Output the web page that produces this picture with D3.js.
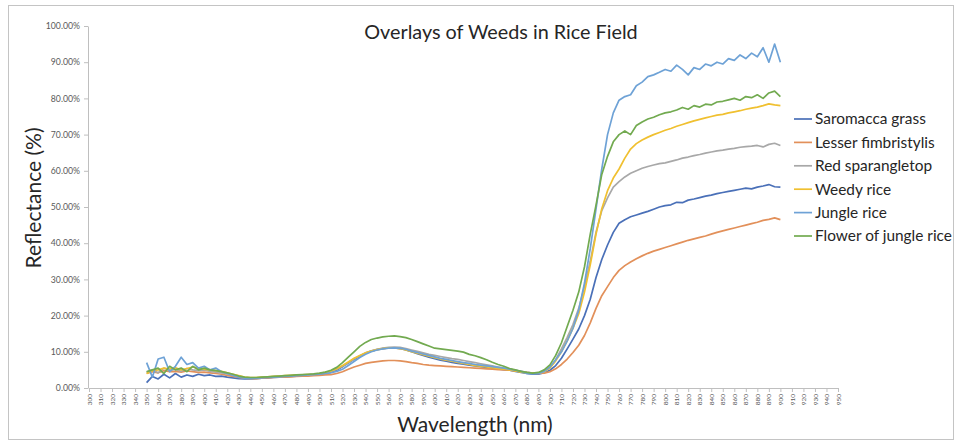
<!DOCTYPE html>
<html>
<head>
<meta charset="utf-8">
<script src="https://cdn.jsdelivr.net/npm/d3@7"></script>
<style>
  html, body { margin: 0; padding: 0; background: #fff; }
  svg { display: block; font-family: Lato, "Open Sans", sans-serif; }
</style>
</head>
<body>
<svg id="chart" width="962" height="444"></svg>
<script>
// Reflectance spectra (%), 350–900 nm every 5 nm

const wavelengths = d3.range(350, 901, 5);

const saromacca = [
  1.5, 3.2, 2.5, 3.8, 2.8, 4.0, 3.0, 3.6, 3.2, 3.8, 3.4, 3.6, 3.2, 3.3, 3.0, 2.8, 2.6, 2.5, 2.5, 2.6,
  2.7, 2.8, 2.9, 3.0, 3.1, 3.2, 3.3, 3.4, 3.5, 3.6, 3.7, 4.0, 4.4, 5.0, 5.9, 6.9, 7.9, 8.8, 9.6, 10.2,
  10.6, 10.9, 11.1, 11.1, 10.9, 10.5, 10.0, 9.5, 9.0, 8.5, 8.1, 7.7, 7.4, 7.1, 6.8, 6.6, 6.3, 6.1, 5.9, 5.7,
  5.5, 5.3, 5.1, 4.9, 4.6, 4.3, 4.0, 3.8, 3.8, 4.2, 4.9, 6.2, 8.2, 10.8, 13.5, 16.3, 20.0, 24.5, 30.5, 35.5,
  39.5, 43.0, 45.5, 46.5, 47.3, 47.8, 48.3, 48.8, 49.4, 50.0, 50.4, 50.6, 51.3, 51.2, 51.9, 52.2, 52.6, 53.0, 53.3, 53.7,
  54.0, 54.3, 54.6, 54.9, 55.2, 55.0, 55.5, 55.8, 56.2, 55.6, 55.5
];

const lesser = [
  4.0, 4.5, 4.2, 4.8, 4.5, 4.6, 4.4, 4.7, 4.5, 4.3, 4.4, 4.2, 4.0, 3.8, 3.5, 3.2, 2.9, 2.7, 2.6, 2.6,
  2.7, 2.8, 2.9, 3.0, 3.0, 3.1, 3.2, 3.3, 3.3, 3.4, 3.5, 3.6, 3.7, 4.0, 4.5, 5.2, 5.8, 6.3, 6.8, 7.1,
  7.3, 7.5, 7.6, 7.6, 7.5, 7.3, 7.0, 6.8, 6.5, 6.3, 6.2, 6.1, 6.0, 5.9, 5.8, 5.7, 5.6, 5.5, 5.4, 5.3,
  5.2, 5.1, 5.0, 4.9, 4.7, 4.5, 4.3, 4.1, 4.0, 4.1, 4.5, 5.3, 6.5, 8.0, 9.8, 11.8, 14.5, 18.0, 22.0, 25.5,
  28.0, 30.5, 32.5, 33.8, 34.8, 35.7, 36.5, 37.2, 37.8, 38.3, 38.8, 39.3, 39.8, 40.3, 40.8, 41.2, 41.6, 42.0, 42.5, 43.0,
  43.4, 43.8, 44.2, 44.6, 45.0, 45.4, 45.8, 46.3, 46.6, 47.0, 46.5
];

const sparangletop = [
  4.5, 5.0, 4.2, 5.5, 4.8, 5.2, 4.6, 5.4, 5.0, 4.8, 5.0, 4.6, 4.4, 4.2, 3.9, 3.6, 3.2, 2.9, 2.8, 2.8,
  2.9, 3.0, 3.1, 3.2, 3.3, 3.4, 3.5, 3.6, 3.7, 3.8, 3.9, 4.2, 4.6, 5.2, 6.0, 7.0, 8.0, 8.9, 9.7, 10.3,
  10.7, 11.0, 11.2, 11.3, 11.2, 10.9, 10.5, 10.1, 9.7, 9.3, 9.0, 8.7, 8.4, 8.1, 7.9, 7.6, 7.3, 7.0, 6.7, 6.4,
  6.1, 5.8, 5.5, 5.2, 4.9, 4.6, 4.3, 4.1, 4.0, 4.5, 5.6, 7.8, 10.8, 14.0, 17.5, 22.0, 28.0, 35.0, 43.0, 49.0,
  52.5, 55.5, 57.0, 58.3, 59.3, 60.0, 60.7, 61.2, 61.6, 62.0, 62.2, 62.6, 63.0, 63.5, 63.8, 64.2, 64.5, 64.9, 65.2, 65.5,
  65.7, 66.0, 66.2, 66.5, 66.7, 66.8, 67.0, 66.6, 67.3, 67.6, 67.0
];

const weedyRice = [
  4.0, 4.8, 5.0, 5.5, 5.2, 5.6, 5.0, 5.4, 5.8, 5.5, 5.2, 5.0, 4.8, 4.6, 4.2, 3.8, 3.4, 3.0, 2.9, 2.9,
  3.0, 3.1, 3.2, 3.3, 3.4, 3.5, 3.6, 3.6, 3.7, 3.8, 4.0, 4.3, 4.7, 5.3, 6.2, 7.2, 8.2, 9.0, 9.7, 10.2,
  10.6, 10.9, 11.1, 11.1, 10.9, 10.5, 10.0, 9.6, 9.2, 8.8, 8.4, 8.0, 7.7, 7.4, 7.1, 6.8, 6.5, 6.2, 6.0, 5.8,
  5.6, 5.4, 5.2, 5.0, 4.7, 4.4, 4.2, 4.1, 4.1, 4.5, 5.5, 7.5, 10.0, 13.0, 16.5, 20.5, 26.5, 34.0, 42.5, 49.5,
  54.5, 58.0, 60.5, 63.5, 66.0, 67.5, 68.5, 69.3, 70.0, 70.6, 71.2, 71.7, 72.3, 72.8, 73.3, 73.8, 74.2, 74.6, 75.0, 75.4,
  75.6, 76.0, 76.3, 76.6, 77.0, 77.3, 77.6, 78.0, 78.5, 78.2, 78.0
];

const jungleRice = [
  7.0, 3.0, 8.0, 8.5, 4.5, 6.0, 8.5, 6.5, 7.0, 5.5, 6.0, 5.0, 5.5, 4.5, 4.0, 3.5, 3.0, 2.7, 2.6, 2.7,
  2.8, 2.9, 3.0, 3.1, 3.2, 3.3, 3.4, 3.5, 3.6, 3.7, 3.8, 4.0, 4.2, 4.6, 5.2, 6.2, 7.3, 8.4, 9.3, 10.0,
  10.5, 10.8, 11.0, 11.1, 11.0, 10.7, 10.2, 9.8, 9.4, 9.0, 8.6, 8.2, 7.9, 7.6, 7.3, 7.0, 6.8, 6.5, 6.3, 6.1,
  5.9, 5.7, 5.5, 5.2, 4.9, 4.6, 4.0, 3.9, 4.0, 4.6, 5.8, 7.8, 10.0, 13.0, 16.5, 21.5, 29.0, 38.5, 49.5, 60.5,
  70.0, 76.0, 79.5, 80.5, 81.0, 83.5, 84.5, 86.0, 86.5, 87.2, 88.0, 87.5, 89.2, 88.0, 86.5, 88.5, 88.0, 89.5, 89.0, 90.0,
  89.5, 91.0, 90.5, 92.0, 91.0, 92.5, 91.5, 94.0, 90.0, 95.0, 90.0
];

const flowerJungleRice = [
  4.5, 5.0, 5.5, 4.0, 6.0, 5.0, 5.5, 4.5, 6.0, 5.0, 5.5, 5.0, 4.8, 4.5, 4.2, 3.8, 3.3, 3.0, 2.9, 2.9,
  3.0, 3.1, 3.2, 3.3, 3.4, 3.5, 3.6, 3.7, 3.8, 3.9, 4.1, 4.4, 4.9, 5.7, 7.0, 8.5, 10.0, 11.5, 12.6, 13.4,
  13.8, 14.1, 14.3, 14.4, 14.2, 13.9, 13.4, 12.8, 12.2, 11.6, 11.0, 10.8, 10.6, 10.4, 10.2, 9.9, 9.3, 8.9, 8.4, 7.8,
  7.1, 6.5, 6.0, 5.4, 5.0, 4.6, 4.3, 4.1, 4.3, 5.0, 6.4, 9.0, 12.5, 17.0, 21.5, 26.5, 33.5, 42.5, 50.5, 59.0,
  64.0, 68.0, 70.0, 71.0, 70.0, 72.5, 73.5, 74.3, 74.8, 75.5, 76.0, 76.3, 76.8, 77.5, 77.0, 78.0, 77.6, 78.4, 78.2, 79.0,
  79.2, 79.6, 80.0, 79.5, 80.5, 80.2, 81.0, 80.0, 81.5, 82.0, 80.5
];

const seriesNames = ['Saromacca grass', 'Lesser fimbristylis', 'Red sparangletop',
                     'Weedy rice', 'Jungle rice', 'Flower of jungle rice'];
const seriesValues = [saromacca, lesser, sparangletop, weedyRice, jungleRice, flowerJungleRice];
const seriesColors = ['#4a70b8', '#e2905a', '#a8a8a8', '#f0c030', '#6ea2d6', '#72aa50'];

const yTicks = [0, 10, 20, 30, 40, 50, 60, 70, 80, 90, 100];
const xTicks = [300, 310, 320, 330, 340, 350, 360, 370, 380, 390, 400, 410, 420, 430, 440, 450,
  460, 470, 480, 490, 500, 510, 520, 530, 540, 550, 560, 570, 580, 590, 600, 610, 620, 630, 640,
  650, 660, 670, 680, 690, 700, 710, 720, 730, 740, 750, 760, 770, 780, 790, 800, 810, 820, 830,
  840, 850, 860, 870, 880, 890, 900, 910, 920, 930, 940, 950];

// ── Layout ────────────────────────────────────────────────────────────────
const svg = d3.select('#chart');
const PLOT = { left: 89, right: 838, top: 26, bottom: 388 };

const x = d3.scaleLinear().domain([300, 950]).range([PLOT.left, PLOT.right]);
const y = d3.scaleLinear().domain([0, 100]).range([PLOT.bottom, PLOT.top]);

// outer frame
svg.append('rect')
  .attr('x', 8.5).attr('y', 5.5)
  .attr('width', 945).attr('height', 434)
  .attr('fill', 'none')
  .attr('stroke', '#c4c4c4');

// ── Axes ──────────────────────────────────────────────────────────────────
const yAxisG = svg.append('g')
  .attr('transform', `translate(${PLOT.left - 1},0)`)
  .call(d3.axisLeft(y).tickValues(yTicks).tickSize(4).tickSizeOuter(0)
    .tickFormat(d => d.toFixed(2) + '%'));
yAxisG.select('.domain').attr('stroke', '#bfbfbf');
yAxisG.selectAll('.tick line').attr('stroke', '#bfbfbf');
yAxisG.selectAll('text')
  .attr('x', -8)
  .style('font-size', '8.7px')
  .style('font-family', 'Lato, sans-serif')
  .style('fill', '#595959');

const xAxisG = svg.append('g')
  .attr('transform', `translate(0,${PLOT.bottom})`)
  .call(d3.axisBottom(x).tickValues(xTicks).tickSize(4).tickSizeOuter(0));
xAxisG.select('.domain').attr('stroke', '#bfbfbf');
xAxisG.selectAll('.tick line').attr('stroke', '#bfbfbf');
xAxisG.selectAll('text')
  .attr('transform', 'rotate(-90)')
  .attr('x', -6).attr('y', 0).attr('dy', '0.32em')
  .style('text-anchor', 'end')
  .style('font-size', '6.5px')
  .style('font-family', 'Lato, sans-serif')
  .style('fill', '#595959');

// ── Lines ─────────────────────────────────────────────────────────────────
const line = d3.line()
  .x((d, i) => x(wavelengths[i]))
  .y(d => y(d));

svg.append('g').selectAll('path')
  .data(seriesValues)
  .join('path')
  .attr('d', line)
  .attr('fill', 'none')
  .attr('stroke', (d, i) => seriesColors[i])
  .attr('stroke-width', 1.7)
  .attr('stroke-linejoin', 'round');

// ── Texts ─────────────────────────────────────────────────────────────────
svg.append('text')
  .attr('x', 501).attr('y', 39)
  .attr('text-anchor', 'middle')
  .style('font-size', '19.8px')
  .style('fill', '#262626')
  .text('Overlays of Weeds in Rice Field');

svg.append('text')
  .attr('x', 475).attr('y', 432)
  .attr('text-anchor', 'middle')
  .style('font-size', '21px')
  .style('fill', '#262626')
  .text('Wavelength (nm)');

svg.append('text')
  .attr('transform', 'translate(41,198) rotate(-90)')
  .attr('text-anchor', 'middle')
  .style('font-size', '21px')
  .style('fill', '#262626')
  .text('Reflectance (%)');

// ── Legend ────────────────────────────────────────────────────────────────
const legend = svg.append('g');
const legendRows = legend.selectAll('g')
  .data(seriesNames)
  .join('g')
  .attr('transform', (d, i) => `translate(794,${119 + i * 23.4})`);

legendRows.append('line')
  .attr('x1', 0).attr('x2', 18)
  .attr('stroke', (d, i) => seriesColors[i])
  .attr('stroke-width', 1.7);

legendRows.append('text')
  .attr('x', 21).attr('dy', '0.35em')
  .style('font-size', '15.4px')
  .style('fill', '#262626')
  .text(d => d);
</script>
</body>
</html>
